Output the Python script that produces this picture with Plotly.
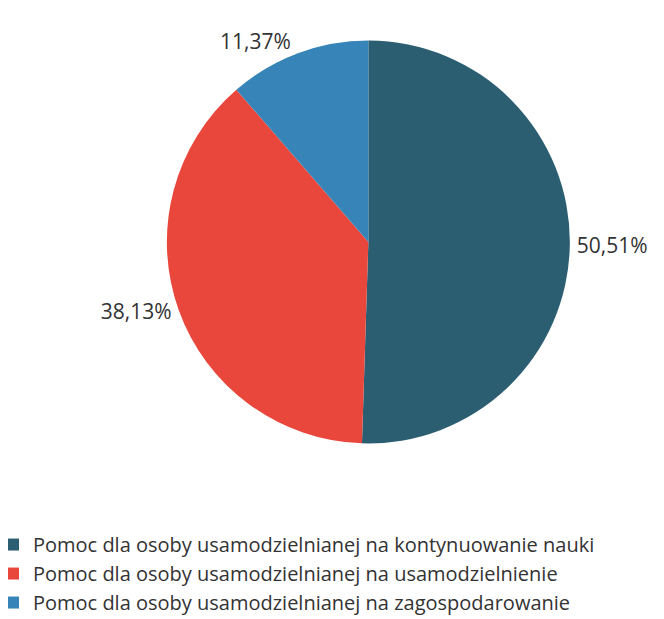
import plotly.graph_objects as go

LABELS = [
    "Pomoc dla osoby usamodzielnianej na kontynuowanie nauki",
    "Pomoc dla osoby usamodzielnianej na usamodzielnienie",
    "Pomoc dla osoby usamodzielnianej na zagospodarowanie",
]
SHARES = [50.51, 38.13, 11.37]
COLORS = ["#2c5e72", "#ea473c", "#3784b8"]

fig = go.Figure(
    go.Pie(
        labels=LABELS,
        values=SHARES,
        sort=False,
        direction="clockwise",
        rotation=0,
        marker={"colors": COLORS, "line": {"width": 0}},
        textposition="outside",
        texttemplate="%{value:.2f}%",
        textfont={"size": 21, "color": "#333333", "family": "Open Sans, sans-serif"},
        domain={"x": [0.26, 1.0], "y": [0.2965, 0.9475]},
        showlegend=True,
    )
)

fig.update_layout(
    width=664,
    height=619,
    separators=", ",
    paper_bgcolor="#ffffff",
    font={"family": "Open Sans, sans-serif", "color": "#333333"},
    margin={"l": 0, "r": 0, "t": 0, "b": 0},
    legend={
        "x": 0,
        "y": 0.008,
        "xanchor": "left",
        "yanchor": "bottom",
        "indentation": -15,
        "font": {"size": 20, "color": "#333333"},
        "itemwidth": 30,
        "tracegroupgap": 0,
    },
)

fig.write_html("out.html")
